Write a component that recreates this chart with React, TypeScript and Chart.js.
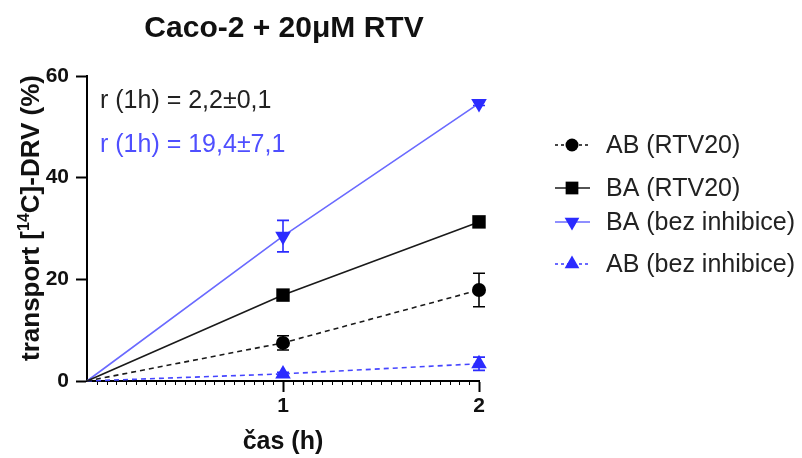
import { useEffect, useRef } from "react";
import { Chart, registerables } from "chart.js";

Chart.register(...registerables);

// Time points (h)
const hours = [0, 1, 2];

// Transport (%) means and SD per series
const abRtv20 = [0, 7.5, 17.9];
const abRtv20Sd = [0, 1.4, 3.3];
const baRtv20 = [0, 16.9, 31.3];
const baRtv20Sd = [0, 0.5, 0.6];
const baControl = [0, 28.5, 54.6];
const baControlSd = [0, 3.1, 0.4];
const abControl = [0, 1.4, 3.4];
const abControlSd = [0, 0.3, 1.3];

const seriesNames = ["AB (RTV20)", "BA (RTV20)", "BA (bez inhibice)", "AB (bez inhibice)"];
const yTicks = [0, 20, 40, 60];
const xTicks = [1, 2];
const rateLabels = ["r (1h) = 2,2±0,1", "r (1h) = 19,4±7,1"];
const chartTitle = "Caco-2 + 20μM RTV";
const xTitle = "čas (h)";

const FONT = "'Liberation Sans', Arial, sans-serif";
const BLACK = "#1a1a1a";
const BLUE_MARK = "#2b2bff";
const BLUE_LINE = "#6a6aff";
const BLUE_DASH = "#4545ff";

type Series = {
  label: string;
  values: number[];
  sd: number[];
  line: string;
  mark: string;
  dash: number[];
  style: "circle" | "rect" | "triangle";
  rotation: number;
  radius: number;
};

const series: Series[] = [
  { label: seriesNames[0], values: abRtv20, sd: abRtv20Sd, line: BLACK, mark: "#000", dash: [5, 4], style: "circle", rotation: 0, radius: 7 },
  { label: seriesNames[1], values: baRtv20, sd: baRtv20Sd, line: BLACK, mark: "#000", dash: [], style: "rect", rotation: 0, radius: 9.5 },
  { label: seriesNames[2], values: baControl, sd: baControlSd, line: BLUE_LINE, mark: BLUE_MARK, dash: [], style: "triangle", rotation: 180, radius: 9 },
  { label: seriesNames[3], values: abControl, sd: abControlSd, line: BLUE_DASH, mark: BLUE_MARK, dash: [5, 4], style: "triangle", rotation: 0, radius: 9 },
];

function drawMarker(ctx: CanvasRenderingContext2D, s: Series, x: number, y: number, r: number) {
  ctx.save();
  ctx.fillStyle = s.mark;
  ctx.beginPath();
  if (s.style === "circle") {
    ctx.arc(x, y, r, 0, Math.PI * 2);
  } else if (s.style === "rect") {
    const h = r * Math.SQRT1_2;
    ctx.rect(x - h, y - h, 2 * h, 2 * h);
  } else {
    const dir = s.rotation === 180 ? -1 : 1;
    ctx.moveTo(x, y - dir * r);
    ctx.lineTo(x + r * 0.866, y + dir * r * 0.5);
    ctx.lineTo(x - r * 0.866, y + dir * r * 0.5);
    ctx.closePath();
  }
  ctx.fill();
  ctx.restore();
}

const decorations = {
  id: "decorations",
  beforeDatasetsDraw(chart: any) {
    const { ctx, scales } = chart;
    const xs = scales.x;
    const ys = scales.y;
    ctx.save();
    series.forEach((s) => {
      ctx.strokeStyle = s.mark === "#000" ? "#000" : BLUE_MARK;
      ctx.lineWidth = 1.6;
      s.values.forEach((v, i) => {
        const e = s.sd[i];
        if (!e) return;
        const x = xs.getPixelForValue(hours[i]);
        const yt = ys.getPixelForValue(v + e);
        const yb = ys.getPixelForValue(v - e);
        ctx.beginPath();
        ctx.moveTo(x, yt);
        ctx.lineTo(x, yb);
        ctx.moveTo(x - 6, yt);
        ctx.lineTo(x + 6, yt);
        ctx.moveTo(x - 6, yb);
        ctx.lineTo(x + 6, yb);
        ctx.stroke();
      });
    });
    ctx.restore();
  },
  afterDraw(chart: any) {
    const { ctx, scales, chartArea } = chart;
    const xs = scales.x;
    ctx.save();

    // minor ticks along the time axis
    ctx.strokeStyle = "#000";
    ctx.lineWidth = 1;
    for (let k = 1; k < 40; k++) {
      if (k % 20 === 0) continue;
      const x = Math.round(xs.getPixelForValue(k / 20)) + 0.5;
      ctx.beginPath();
      ctx.moveTo(x, chartArea.bottom + 1);
      ctx.lineTo(x, chartArea.bottom + 4);
      ctx.stroke();
    }

    // chart title
    ctx.fillStyle = "#111";
    ctx.font = `bold 30px ${FONT}`;
    ctx.textAlign = "center";
    ctx.textBaseline = "middle";
    ctx.fillText(chartTitle, 284, 29);

    // y-axis title with superscript isotope number
    const big = `bold 26px ${FONT}`;
    const small = `bold 16px ${FONT}`;
    const p1 = "transport [";
    const p2 = "14";
    const p3 = "C]-DRV (%)";
    ctx.font = big;
    const w1 = ctx.measureText(p1).width;
    const w3 = ctx.measureText(p3).width;
    ctx.font = small;
    const w2 = ctx.measureText(p2).width;
    const total = w1 + w2 + w3;
    ctx.translate(30, 218);
    ctx.rotate(-Math.PI / 2);
    ctx.textAlign = "left";
    ctx.textBaseline = "alphabetic";
    let cx = -total / 2;
    ctx.font = big;
    ctx.fillText(p1, cx, 9);
    cx += w1;
    ctx.font = small;
    ctx.fillText(p2, cx, -1);
    cx += w2;
    ctx.font = big;
    ctx.fillText(p3, cx, 9);
    ctx.setTransform(1, 0, 0, 1, 0, 0);

    // rate annotations
    ctx.font = `25px ${FONT}`;
    ctx.textAlign = "left";
    ctx.textBaseline = "middle";
    ctx.fillStyle = "#222";
    ctx.fillText(rateLabels[0], 100, 101);
    ctx.fillStyle = "#4f4fff";
    ctx.fillText(rateLabels[1], 100, 145);

    // legend
    const rows = [145, 188, 222, 264];
    series.forEach((s, i) => {
      const y = rows[i];
      ctx.strokeStyle = s.line;
      ctx.lineWidth = 1.6;
      ctx.setLineDash(s.dash.length ? [3, 3] : []);
      ctx.beginPath();
      ctx.moveTo(555, y);
      ctx.lineTo(590, y);
      ctx.stroke();
      ctx.setLineDash([]);
      drawMarker(ctx, s, 572, y, s.style === "rect" ? 9 : s.style === "circle" ? 6.5 : 8.5);
      ctx.fillStyle = "#222";
      ctx.font = `25px ${FONT}`;
      ctx.fillText(s.label, 606, y + 1);
    });
    ctx.restore();
  },
};

export default function App() {
  const canvasRef = useRef<HTMLCanvasElement | null>(null);

  useEffect(() => {
    if (!canvasRef.current) return;
    const chart = new Chart(canvasRef.current, {
      type: "line",
      data: {
        datasets: series.map((s) => ({
          label: s.label,
          data: hours.map((h, i) => ({ x: h, y: s.values[i] })),
          borderColor: s.line,
          borderWidth: 1.6,
          borderDash: s.dash,
          backgroundColor: s.mark,
          pointBackgroundColor: s.mark,
          pointBorderColor: s.mark,
          pointBorderWidth: 0,
          pointStyle: s.style,
          pointRotation: s.rotation,
          pointRadius: (c: any) => (c.dataIndex === 0 ? 0 : s.radius),
          tension: 0,
          fill: false,
          clip: false as any,
        })),
      },
      options: {
        responsive: false,
        animation: false,
        devicePixelRatio: 1,
        events: [],
        layout: { autoPadding: false, padding: { left: 0, top: 76, right: 323, bottom: 0 } },
        plugins: { legend: { display: false }, tooltip: { enabled: false }, title: { display: false } },
        scales: {
          x: {
            type: "linear",
            min: 0,
            max: 2,
            afterFit: (s: any) => {
              s.height = 77;
            },
            afterBuildTicks: (s: any) => {
              s.ticks = xTicks.map((v) => ({ value: v }));
            },
            ticks: { color: "#111", font: { family: FONT, size: 21, weight: "bold" }, padding: 2, maxRotation: 0 },
            grid: { drawOnChartArea: false, drawTicks: true, tickLength: 11, tickWidth: 2, tickColor: "#000" },
            border: { display: true, color: "#000", width: 2 },
            title: {
              display: true,
              text: xTitle,
              color: "#111",
              font: { family: FONT, size: 25, weight: "bold", lineHeight: 1 },
              padding: { top: 0, bottom: 3 },
            },
          },
          y: {
            type: "linear",
            min: 0,
            max: 60,
            afterFit: (s: any) => {
              s.width = 87;
            },
            afterBuildTicks: (s: any) => {
              s.ticks = yTicks.map((v) => ({ value: v }));
            },
            ticks: { color: "#111", font: { family: FONT, size: 21, weight: "bold" }, padding: 7 },
            grid: { drawOnChartArea: false, drawTicks: true, tickLength: 11, tickWidth: 2, tickColor: "#000" },
            border: { display: true, color: "#000", width: 2 },
          },
        },
      },
      plugins: [decorations],
    });
    return () => chart.destroy();
  }, []);

  return (
    <div style={{ position: "fixed", left: 0, top: 0, width: 802, height: 458, background: "#fff" }}>
      <canvas ref={canvasRef} width={802} height={458} style={{ display: "block" }} />
    </div>
  );
}
